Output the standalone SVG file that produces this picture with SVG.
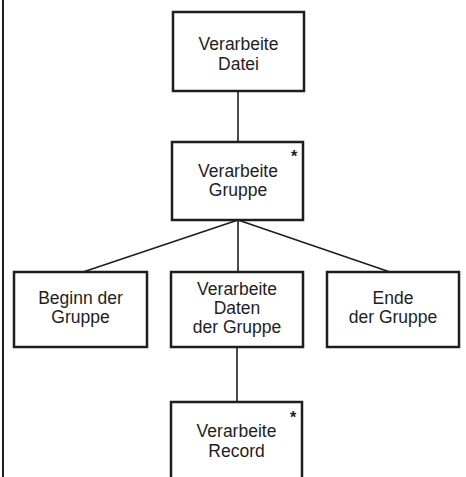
<svg xmlns="http://www.w3.org/2000/svg" width="466" height="477" viewBox="0 0 466 477">
<style>
.box{fill:#fff;stroke:#1e1e1e;stroke-width:2.5}
.t{font-family:"Liberation Sans",Arial,sans-serif;font-size:17.5px;fill:#1e1e1e;text-anchor:middle}
.star{font-family:"Liberation Sans",Arial,sans-serif;font-size:16px;font-weight:bold;fill:#1e1e1e;text-anchor:middle}
.c{stroke:#1e1e1e;stroke-width:1.6;fill:none}
</style>
<rect width="466" height="477" fill="#fff"/>
<line x1="3" y1="0" x2="3" y2="477" stroke="#1e1e1e" stroke-width="2"/>
<g id="connectors">
<line class="c" x1="238" y1="91" x2="238" y2="142"/>
<line class="c" x1="238" y1="220" x2="83" y2="272"/>
<line class="c" x1="238" y1="220" x2="238" y2="272"/>
<line class="c" x1="238" y1="220" x2="390" y2="272"/>
<line class="c" x1="237" y1="347" x2="237" y2="402"/>
</g>
<g id="n-datei">
<rect class="box" x="173" y="12" width="131" height="79"/>
<text class="t" x="238.5" y="50">Verarbeite</text>
<text class="t" x="238.5" y="70">Datei</text>
</g>
<g id="n-gruppe">
<rect class="box" x="172" y="142" width="131" height="78"/>
<text class="t" x="238" y="177">Verarbeite</text>
<text class="t" x="238" y="196">Gruppe</text>
<text class="star" x="294" y="162">*</text>
</g>
<g id="n-beginn">
<rect class="box" x="14" y="272" width="133" height="75"/>
<text class="t" x="80.5" y="304">Beginn der</text>
<text class="t" x="80.5" y="323">Gruppe</text>
</g>
<g id="n-daten">
<rect class="box" x="171" y="272" width="132" height="75"/>
<text class="t" x="237" y="295">Verarbeite</text>
<text class="t" x="237" y="314">Daten</text>
<text class="t" x="237" y="333">der Gruppe</text>
</g>
<g id="n-ende">
<rect class="box" x="327" y="272" width="132" height="75"/>
<text class="t" x="393" y="304">Ende</text>
<text class="t" x="393" y="323">der Gruppe</text>
</g>
<g id="n-record">
<rect class="box" x="171" y="402" width="131" height="85"/>
<text class="t" x="236.5" y="437">Verarbeite</text>
<text class="t" x="236.5" y="457">Record</text>
<text class="star" x="293" y="423">*</text>
</g>
</svg>
